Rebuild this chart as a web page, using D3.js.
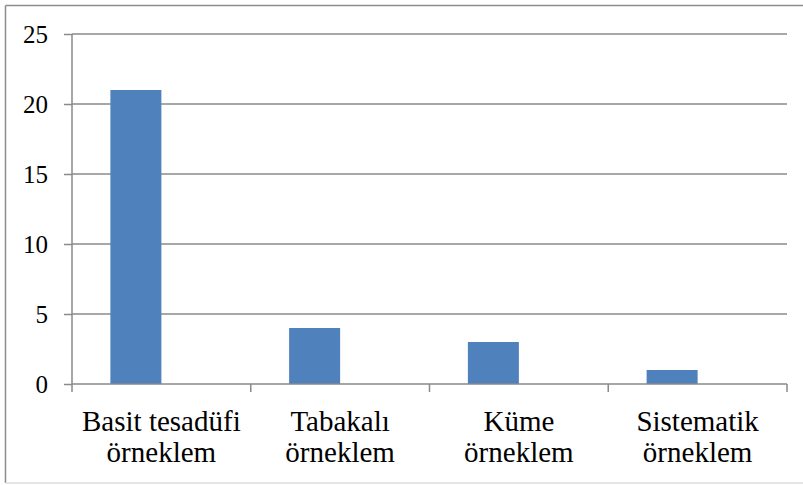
<!DOCTYPE html>
<html><head><meta charset="utf-8">
<script src="https://cdn.jsdelivr.net/npm/d3@7"></script>
<style>body{margin:0;background:#fff}svg{display:block}</style>
</head><body>
<svg id="c" width="803" height="485"></svg>
<script>
const categories = [["Basit tesadüfi","örneklem"],["Tabakalı","örneklem"],["Küme","örneklem"],["Sistematik","örneklem"]];
const values = [21, 4, 3, 1];
const yTicks = [0, 5, 10, 15, 20, 25];

(function(){
const svg = d3.select("#c");
const pL = 72, pR = 787, pT = 34, pB = 384;
const FF = '"Liberation Serif"';

// outer frame
svg.append("line").attr("x1",5.5).attr("x2",803).attr("y1",5.5).attr("y2",5.5)
  .attr("stroke","#8c8c8c").attr("stroke-width",1.5);
svg.append("line").attr("x1",5.5).attr("x2",5.5).attr("y1",5.5).attr("y2",483)
  .attr("stroke","#8c8c8c").attr("stroke-width",1.5);
svg.append("line").attr("x1",5.5).attr("x2",803).attr("y1",483).attr("y2",483)
  .attr("stroke","#dcdcdc").attr("stroke-width",1.5);

const x = d3.scaleBand().domain(d3.range(categories.length)).range([pL, pR]);
const y = d3.scaleLinear().domain([0, 25]).range([pB, pT]);

svg.append("g").selectAll("line").data(yTicks.filter(d=>d>0)).join("line")
  .attr("x1", pL).attr("x2", pR).attr("y1", d=>y(d)).attr("y2", d=>y(d))
  .attr("stroke","#8a8a8a").attr("stroke-width",1.5);

const bw = 51;
svg.append("g").selectAll("rect").data(values).join("rect")
  .attr("x",(d,i)=>x(i)+x.bandwidth()/2-bw).attr("width",bw)
  .attr("y",d=>y(d)).attr("height",d=>y(0)-y(d))
  .attr("fill","#4f81bd");

const ya = svg.append("g").attr("transform",`translate(${pL},0)`)
  .call(d3.axisLeft(y).tickValues(yTicks).tickSize(8).tickPadding(16));
ya.select(".domain").attr("stroke","#8a8a8a").attr("stroke-width",1.5).attr("d",`M0,${pT}V${pB}`);
ya.selectAll(".tick line").attr("stroke","#8a8a8a").attr("stroke-width",1.5);
ya.selectAll(".tick text").style("font-family",FF).style("font-size","25px").attr("fill","#000");

const xa = svg.append("g").attr("transform",`translate(0,${pB})`);
xa.append("line").attr("x1",pL).attr("x2",pR).attr("y1",0).attr("y2",0)
  .attr("stroke","#8a8a8a").attr("stroke-width",1.5);
xa.selectAll(".tk").data(d3.range(categories.length+1)).join("line")
  .attr("x1",i=>pL+i*x.bandwidth()).attr("x2",i=>pL+i*x.bandwidth())
  .attr("y1",0).attr("y2",8).attr("stroke","#8a8a8a").attr("stroke-width",1.5);
const lbl = xa.selectAll("text").data(categories).join("text")
  .attr("text-anchor","middle").style("font-family",FF).style("font-size","29px").attr("fill","#000");
lbl.each(function(d,i){
  const t = d3.select(this);
  d.forEach((s,j)=>t.append("tspan").attr("x",x(i)+x.bandwidth()/2).attr("y",47+j*31).text(s));
});
})();
</script>
</body></html>
